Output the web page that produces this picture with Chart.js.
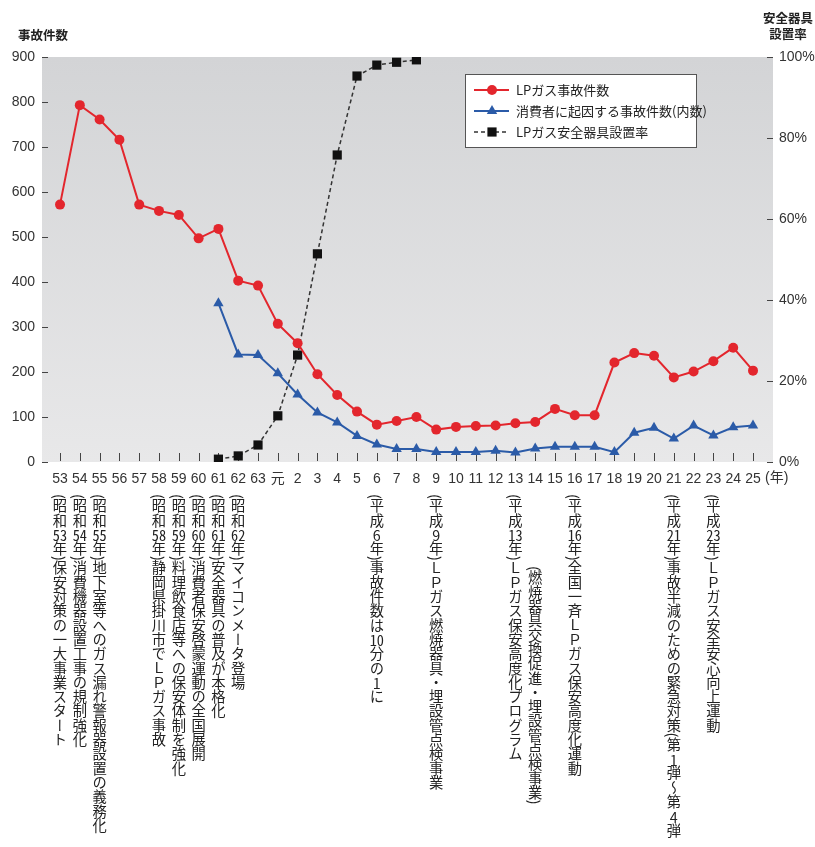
<!DOCTYPE html>
<html lang="ja">
<head>
<meta charset="utf-8">
<title>LPガス事故件数の推移</title>
<script src="https://cdn.jsdelivr.net/npm/chart.js@4.4.1/dist/chart.umd.min.js"></script>
<style>
    html, body { margin: 0; padding: 0; background: #fff; }
    #wrap { position: relative; width: 815px; height: 847px; overflow: hidden; }
    .note {
        position: absolute;
        writing-mode: vertical-rl;
        font-family: 'Noto Sans CJK JP', sans-serif;
        font-size: 14.3px;
        line-height: 17px;
        width: 17px;
        color: #222;
        white-space: nowrap;
    }
    .note .tcy { text-combine-upright: all; }
</style>
</head>
<body>
<div id="wrap">
    <canvas id="accidentChart"></canvas>
</div>
<script>
const yearLabels = ['53', '54', '55', '56', '57', '58', '59', '60', '61', '62', '63', '元',
    '2', '3', '4', '5', '6', '7', '8', '9', '10', '11', '12', '13', '14', '15', '16', '17',
    '18', '19', '20', '21', '22', '23', '24', '25'];

const accidentCounts = [572, 793, 761, 716, 572, 558, 549, 497, 518, 403, 392, 307,
    264, 195, 149, 112, 83, 91, 100, 72, 78, 80, 81, 86, 89, 118, 104, 104,
    221, 242, 236, 188, 201, 224, 254, 203];

const consumerCounts = [null, null, null, null, null, null, null, null, 353, 239, 238, 197,
    150, 110, 88, 58, 39, 29, 29, 22, 22, 22, 25, 21, 30, 34, 34, 34,
    22, 65, 76, 52, 81, 59, 77, 81];

const safetyDeviceRate = [null, null, null, null, null, null, null, null, 0.7, 1.5, 4.2, 11.4,
    26.4, 51.4, 75.8, 95.3, 98.0, 98.7, 99.3, null, null, null, null, null, null, null, null, null,
    null, null, null, null, null, null, null, null];

const countTicks = [0, 100, 200, 300, 400, 500, 600, 700, 800, 900];
const rateTicks = [0, 20, 40, 60, 80, 100];

const noteYears = ['53', '54', '55', '58', '59', '60', '61', '62', '6', '9', '13', '14', '16', '21', '23'];
const noteTexts = [
    '(昭和53年)保安対策の一大事業スタート',
    '(昭和54年)消費機器設置工事の規制強化',
    '(昭和55年)地下室等へのガス漏れ警報器設置の義務化',
    '(昭和58年)静岡県掛川市でＬＰガス事故',
    '(昭和59年)料理飲食店等への保安体制を強化',
    '(昭和60年)消費者保安啓蒙運動の全国展開',
    '(昭和61年)安全器具の普及が本格化',
    '(昭和62年)マイコンメータ登場',
    '(平成6年)事故件数は10分の1に',
    '(平成9年)ＬＰガス燃焼器具・埋設管点検事業',
    '(平成13年)ＬＰガス保安高度化プログラム',
    '(燃焼器具交換促進・埋設管点検事業)',
    '(平成16年)全国一斉ＬＰガス保安高度化運動',
    '(平成21年)事故半減のための緊急対策(第1弾～第4弾',
    '(平成23年)ＬＰガス安全安心向上運動'
];

const FONT = "'Liberation Sans', 'Noto Sans CJK JP', sans-serif";
const JP_FONT = "'Noto Sans CJK JP', sans-serif";

function toPoints(values) {
    return values.map((v, i) => ({ x: i, y: v }));
}

const decorPlugin = {
    id: 'decor',
    beforeDraw(chart) {
        const { ctx, chartArea: a } = chart;
        const g = ctx.createLinearGradient(0, a.top, 0, a.bottom);
        g.addColorStop(0, '#d3d4d6');
        g.addColorStop(1, '#e8e8e9');
        ctx.save();
        ctx.fillStyle = g;
        ctx.fillRect(a.left, a.top, a.right - a.left, a.bottom - a.top);
        ctx.restore();
    },
    beforeDatasetsDraw(chart) {
        const { ctx, chartArea: a, scales } = chart;
        ctx.save();
        ctx.strokeStyle = '#444';
        ctx.lineWidth = 1;
        ctx.beginPath();
        scales.y.ticks.forEach(t => {
            const y = Math.round(scales.y.getPixelForValue(t.value)) + 0.5;
            ctx.moveTo(a.left, y); ctx.lineTo(a.left + 6, y);
        });
        scales.y2.ticks.forEach(t => {
            const y = Math.round(scales.y2.getPixelForValue(t.value)) + 0.5;
            ctx.moveTo(a.right - 6, y); ctx.lineTo(a.right, y);
        });
        scales.x.ticks.forEach(t => {
            const x = Math.round(scales.x.getPixelForValue(t.value)) + 0.5;
            ctx.moveTo(x, a.bottom - 9); ctx.lineTo(x, a.bottom - 1);
        });
        ctx.stroke();
        ctx.restore();
    },
    afterDraw(chart) {
        const { ctx, chartArea: a, scales } = chart;
        ctx.save();
        ctx.fillStyle = '#222';
        ctx.textBaseline = 'middle';
        ctx.font = 'bold 12.5px ' + JP_FONT;
        ctx.textAlign = 'left';
        ctx.fillText('事故件数', 18, 35);
        ctx.textAlign = 'center';
        ctx.fillText('安全器具', 788, 18);
        ctx.fillText('設置率', 788, 34);

        // (年) after the last category
        ctx.fillStyle = '#333';
        ctx.font = '14px ' + FONT;
        ctx.textAlign = 'left';
        const lastX = scales.x.getPixelForValue(yearLabels.length - 1);
        ctx.fillText('(年)', lastX + 12, 478);

        // legend box
        const bx = a.left + 423, by = a.top + 17, bw = 231, bh = 73;
        ctx.fillStyle = '#fff';
        ctx.fillRect(bx, by, bw, bh);
        ctx.strokeStyle = '#555';
        ctx.lineWidth = 1;
        ctx.strokeRect(bx + 0.5, by + 0.5, bw, bh);
        chart.data.datasets.forEach((ds, i) => {
            const ry = by + 16 + i * 21;
            ctx.save();
            ctx.strokeStyle = ds.borderColor;
            ctx.lineWidth = ds.borderWidth;
            ctx.setLineDash(ds.borderDash || []);
            ctx.beginPath();
            ctx.moveTo(bx + 9, ry); ctx.lineTo(bx + 44, ry);
            ctx.stroke();
            ctx.setLineDash([]);
            ctx.fillStyle = ds.backgroundColor;
            Chart.helpers.drawPoint(ctx, {
                pointStyle: ds.pointStyle, radius: ds.pointRadius, rotation: 0, borderWidth: 0
            }, bx + 27, ry);
            ctx.restore();
            ctx.fillStyle = '#222';
            ctx.font = '13px ' + JP_FONT;
            ctx.textAlign = 'left';
            ctx.fillText(ds.label, bx + 51, ry);
        });
        ctx.restore();
    }
};

const ctx = document.getElementById('accidentChart').getContext('2d');
const chart = new Chart(ctx, {
    type: 'line',
    data: {
        datasets: [{
            label: 'LPガス事故件数',
            data: toPoints(accidentCounts),
            borderColor: '#e3262d',
            backgroundColor: '#e3262d',
            borderWidth: 2,
            pointStyle: 'circle',
            pointRadius: 5,
            pointBorderWidth: 0,
            yAxisID: 'y'
        }, {
            label: '消費者に起因する事故件数(内数)',
            data: toPoints(consumerCounts),
            borderColor: '#2b5ba8',
            backgroundColor: '#2b5ba8',
            borderWidth: 2,
            pointStyle: 'triangle',
            pointRadius: 6,
            pointBorderWidth: 0,
            yAxisID: 'y'
        }, {
            label: 'LPガス安全器具設置率',
            data: toPoints(safetyDeviceRate),
            borderColor: '#333',
            backgroundColor: '#111',
            borderWidth: 1.5,
            borderDash: [4, 3],
            pointStyle: 'rect',
            pointRadius: 6.5,
            pointBorderWidth: 0,
            yAxisID: 'y2'
        }]
    },
    options: {
        responsive: true,
        maintainAspectRatio: false,
        animation: false,
        layout: { padding: { top: 57, bottom: 355, left: 0, right: 0 } },
        plugins: {
            legend: { display: false },
            tooltip: { enabled: false }
        },
        scales: {
            x: {
                type: 'linear',
                min: -0.91,
                max: 36.01,
                afterBuildTicks: s => { s.ticks = yearLabels.map((_, i) => ({ value: i })); },
                afterFit: s => { s.height = 30; },
                grid: { display: false, drawTicks: false },
                border: { display: false },
                ticks: {
                    autoSkip: false,
                    maxRotation: 0,
                    padding: 9,
                    color: '#333',
                    font: { family: FONT, size: 14 },
                    callback: v => yearLabels[v]
                }
            },
            y: {
                position: 'left',
                min: 0,
                max: 900,
                afterBuildTicks: s => { s.ticks = countTicks.map(v => ({ value: v })); },
                afterFit: s => { s.width = 42; },
                grid: { display: false, drawTicks: false },
                border: { display: false },
                ticks: {
                    padding: 7,
                    color: '#333',
                    font: { family: FONT, size: 14 }
                }
            },
            y2: {
                position: 'right',
                min: 0,
                max: 100,
                afterBuildTicks: s => { s.ticks = rateTicks.map(v => ({ value: v })); },
                afterFit: s => { s.width = 42; },
                grid: { display: false, drawTicks: false },
                border: { display: false },
                ticks: {
                    padding: 6,
                    color: '#333',
                    font: { family: FONT, size: 14 },
                    callback: v => v + '%'
                }
            }
        }
    },
    plugins: [decorPlugin]
});

// vertical annotations under the axis, placed on the category positions
function placeNotes() {
    const wrap = document.getElementById('wrap');
    noteYears.forEach((yr, i) => {
        const idx = yearLabels.indexOf(yr);
        const x = chart.scales.x.getPixelForValue(idx);
        const el = document.createElement('div');
        el.className = 'note';
        el.innerHTML = noteTexts[i].replace(/(\d+)/g, '<span class="tcy">$1</span>');
        el.style.left = (x - 8.5) + 'px';
        el.style.top = (yr === '14' ? 566 : 494) + 'px';
        wrap.appendChild(el);
    });
}
placeNotes();
</script>
</body>
</html>
